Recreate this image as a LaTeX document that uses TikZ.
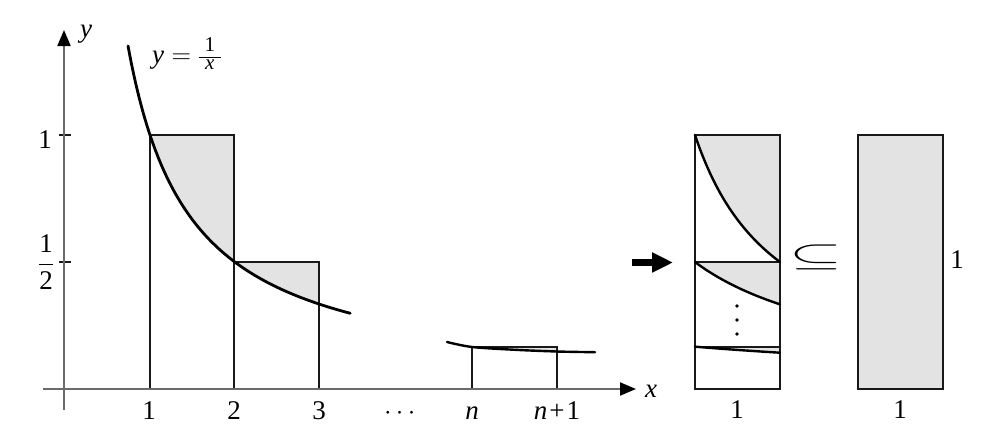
\documentclass[tikz,border=0pt]{standalone}
\usepackage{fix-cm}
\usepackage{amsmath}
\usepackage{graphicx}
\usepackage{fontspec}
\setmainfont{Liberation Serif}
\usetikzlibrary{arrows.meta}
\definecolor{areagray}{gray}{0.89}
\definecolor{axisgray}{gray}{0.42}
\begin{document}
\begin{tikzpicture}[x=1pt,y=-1pt, font=\fontsize{27}{32}\selectfont,
  axis/.style={draw=axisgray, line width=2pt},
  axtip/.style={-{Triangle[length=16pt,width=13pt,color=black]}},
  thinline/.style={draw=black!90, line width=1.7pt},
  curve/.style={draw=black, line width=2.8pt, line cap=round},
  lbl/.style={inner sep=0pt, anchor=base}]
\useasboundingbox (0,0) rectangle (988,432);

% ---------- main graph: shaded parts and rectangles ----------
\begin{scope}[shift={(65.5,388.5)}, x=84.5pt, y=253.5pt]
  \fill[areagray] (1,1) -- (2,1) -- (2,0.5) -- plot[domain=2:1,samples=40] (\x,{1/\x}) -- cycle;
  \fill[areagray] (2,0.5) -- (3,0.5) -- (3,0.33333) -- plot[domain=3:2,samples=40] (\x,{1/\x}) -- cycle;
\end{scope}
\draw[thinline] (150,389) rectangle (234,135);
\draw[thinline] (234,389) rectangle (319,262);
\draw[thinline] (59,135) -- (71,135);
\draw[thinline] (59,262) -- (71,262);
\begin{scope}[shift={(65.5,388.5)}, x=84.5pt, y=253.5pt]
  \draw[curve] plot[domain=0.74:3.37, samples=120] (\x,{1/\x});
\end{scope}

% n .. n+1 part
\fill[areagray] (472,347) -- (557,347) -- (557,351.5) -- (515,349.8) -- cycle;
\draw[thinline] (472,389) -- (472,347) -- (557,347) -- (557,389);
\draw[curve, line width=2.4pt] plot[smooth] coordinates {(447,342) (472,347) (515,349.8) (557,351.5) (595,352.2)};

% axes
\coordinate (xs) at (43,389);
\coordinate (xe) at (636,389);
\coordinate (ys) at (64,410);
\coordinate (ye) at (64,30);
\draw[axis, axtip] (xs) -- (xe);
\draw[axis, axtip] (ys) -- (ye);

% axis labels
\node[lbl] (xl) at (651,397) {\textit{x}};
\node[lbl] (yl) at (86,37) {\textit{y}};
\node[lbl] (t1) at (149,419) {1};
\node[lbl] (t2) at (234,419) {2};
\node[lbl] (t3) at (319,419) {3};
\node[lbl] (tdots) at (402,419) {$\cdots$};
\node[lbl] (tn) at (472,419) {\textit{n}};
\node[lbl] (tn1) at (557,419) {\textit{n}\kern2pt+\kern2pt1};
\node[inner sep=0pt] (yone) at (45,140) {1};
\node[inner sep=0pt] (yhalf) at (46,262) {$\dfrac{\text{1}}{\text{2}}$};
\node[lbl, anchor=base west] (eq) at (152,63)
  {\textit{y}${}=\vcenter{\hbox{\fontsize{21}{21}\selectfont\setlength{\arrayrulewidth}{1.3pt}\renewcommand{\arraystretch}{0.8}\begin{tabular}{@{\hspace{6pt}}c@{\hspace{6pt}}}1\\\hline\textit{x}\end{tabular}}}$};

% ---------- right part ----------
\coordinate (ar1) at (632,262.5);
\coordinate (ar2) at (673,262.5);
\draw[line width=7pt, -{Triangle[length=21pt,width=19pt]}] (ar1) -- (ar2);

\begin{scope}[shift={(695,389)}, x=85pt, y=254pt]
  \fill[areagray] (0,1) -- (1,1) -- (1,0.5) -- plot[domain=1:0,samples=40] (\x,{1/(1+\x)}) -- cycle;
  \fill[areagray] (0,0.5) -- (1,0.5) -- (1,0.33333) -- plot[domain=1:0,samples=40] (\x,{1/(2+\x)}) -- cycle;
  \fill[areagray] (0,0.16667) -- (1,0.16667) -- (1,0.142857) -- plot[domain=1:0,samples=40] (\x,{1/(6+\x)}) -- cycle;
  \draw[thinline] (0,0) rectangle (1,1);
  \draw[thinline] (0,0.5) -- (1,0.5);
  \draw[thinline] (0,0.16667) -- (1,0.16667);
  \draw[curve, line width=2.4pt] plot[domain=0:1,samples=60] (\x,{1/(1+\x)});
  \draw[curve, line width=2.4pt] plot[domain=0:1,samples=60] (\x,{1/(2+\x)});
  \draw[curve, line width=2.4pt] plot[domain=0:1,samples=60] (\x,{1/(6+\x)});
\end{scope}
% vertical ellipsis dots
\fill (737,306) circle (1.8pt);
\fill (737,320) circle (1.8pt);
\fill (737,334) circle (1.8pt);

\node[inner sep=0pt] (sub) at (816,257) {\resizebox*{53pt}{25pt}{$\subseteq$}};

\draw[thinline, fill=areagray] (858,135) rectangle (943,389);

\node[lbl] (b1) at (737,418) {1};
\node[lbl] (b2) at (900,418) {1};
\node[lbl] (r1) at (957,268) {1};
\end{tikzpicture}
\end{document}
